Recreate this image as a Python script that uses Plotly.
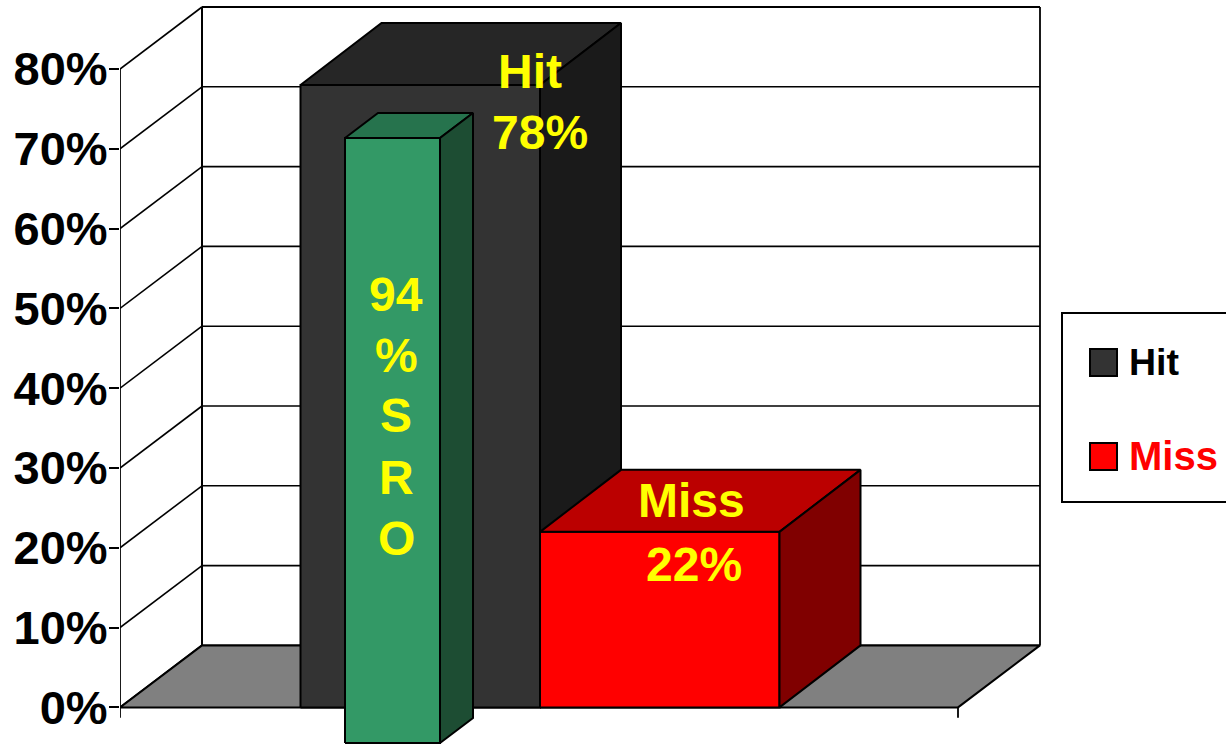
import plotly.graph_objects as go

# Chart values
categories = ["Hit", "Miss"]
values = [78, 22]
sro_label = "SRO"
sro_value = 94
tick_values = [0, 10, 20, 30, 40, 50, 60, 70, 80]
tick_labels = ["0%", "10%", "20%", "30%", "40%", "50%", "60%", "70%", "80%"]

W, H = 1226, 745
LEFT = 120            # pixel column of the front-left corner
ZERO_PX = 707.4       # pixel row of 0%
UNIT_X = 239.5        # pixels per bar width
UNIT_Y = 7.98         # pixels per percentage point
WALL_DX = 82 / UNIT_X
DEPTH_X = 81 / UNIT_X
DEPTH_Y = 62.0 / UNIT_Y
FLOOR_END = 838 / UNIT_X
BAR_START = 180.5 / UNIT_X

# Secondary scale used by the narrow SRO column, which starts lower on the page
SRO_ZERO_PX = 743
SRO_TOP_PX = 138
SRO_UNIT_Y = (SRO_ZERO_PX - SRO_TOP_PX) / sro_value
SRO_X = (345 - LEFT) / UNIT_X
SRO_W = 95 / UNIT_X
SRO_DEPTH_X = 33 / UNIT_X
SRO_DEPTH_Y = 25 / SRO_UNIT_Y

FONT = "Liberation Sans"
fig = go.Figure()


def line(xs, ys, width=1.6, yaxis="y"):
    fig.add_trace(go.Scatter(x=xs, y=ys, mode="lines", yaxis=yaxis, hoverinfo="skip",
                             showlegend=False, cliponaxis=False,
                             line=dict(color="black", width=width)))


def poly(xs, ys, fill, yaxis="y", width=2):
    fig.add_trace(go.Scatter(x=xs + xs[:1], y=ys + ys[:1], mode="lines", fill="toself",
                             fillcolor=fill, yaxis=yaxis, hoverinfo="skip",
                             showlegend=False, cliponaxis=False,
                             line=dict(color="black", width=width)))


def box3d(x0, width, value, dx, dy, front, top, side, yaxis="y"):
    x1 = x0 + width
    poly([x0, x1, x1, x0], [0, 0, value, value], front, yaxis)
    poly([x0, x1, x1 + dx, x0 + dx], [value, value, value + dy, value + dy], top, yaxis)
    poly([x1, x1 + dx, x1 + dx, x1], [0, dy, value + dy, value], side, yaxis)


# Side wall and back wall grid
for t in tick_values:
    line([0, WALL_DX], [t, t + DEPTH_Y], 1.6 if t else 2)
    line([WALL_DX, WALL_DX + FLOOR_END], [t + DEPTH_Y, t + DEPTH_Y], 2 if t == 80 else 1.6)
line([0, 0], [-1.3, 80], 1.8)
line([WALL_DX, WALL_DX], [DEPTH_Y, 80 + DEPTH_Y], 2)
line([WALL_DX + FLOOR_END, WALL_DX + FLOOR_END], [DEPTH_Y, 80 + DEPTH_Y], 1.8)

# Floor
poly([0, FLOOR_END, FLOOR_END + WALL_DX, WALL_DX], [0, 0, DEPTH_Y, DEPTH_Y], "#808080")
line([FLOOR_END, FLOOR_END], [-1.3, 0], 1.8)

# Main bars
palette = [("#333333", "#262626", "#1a1a1a"), ("#ff0000", "#bb0000", "#800000")]
for i, (cat, val) in enumerate(zip(categories, values)):
    box3d(BAR_START + i, 1, val, DEPTH_X, DEPTH_Y, *palette[i])

# Narrow SRO column
box3d(SRO_X, SRO_W, sro_value, SRO_DEPTH_X, SRO_DEPTH_Y,
      "#339966", "#26734d", "#1d4d33", yaxis="y2")


def px(x):
    return (x - LEFT) / (W - LEFT)


def py(y):
    return 1 - y / H


def label(text, x, y, size=48, color="#ffff00", xanchor="center"):
    fig.add_annotation(text=f"<b>{text}</b>", x=px(x), y=py(y), xref="paper", yref="paper",
                       showarrow=False, xanchor=xanchor, yanchor="middle",
                       font=dict(family=FONT, size=size, color=color),
                       borderpad=0, align="center")


label(f"{categories[0]}", 530, 71)
label(f"{values[0]}%", 540, 132)
label(f"{categories[1]}", 691, 500)
label(f"{values[1]}%", 694, 564)
for text, y in zip([str(sro_value), "%", *sro_label], [294, 355, 416, 477, 538]):
    label(text, 396, y)

# Legend panel
shapes = [dict(type="rect", xref="paper", yref="paper", x0=px(1062), x1=px(1232),
               y0=py(502), y1=py(313), line=dict(color="black", width=2), fillcolor="white",
               layer="below")]
for colour, top in zip(["#333333", "#ff0000"], [349, 443]):
    shapes.append(dict(type="rect", xref="paper", yref="paper", x0=px(1090), x1=px(1117),
                       y0=py(top + 27), y1=py(top), line=dict(color="black", width=2),
                       fillcolor=colour))
label(categories[0], 1128, 362, size=37.5, color="black", xanchor="left")
label(categories[1], 1128, 456, size=40, color="#ff0000", xanchor="left")

fig.update_layout(
    width=W, height=H, autosize=False,
    margin=dict(l=LEFT, r=0, t=0, b=0, pad=0),
    paper_bgcolor="white", plot_bgcolor="rgba(0,0,0,0)",
    showlegend=False, shapes=shapes,
    xaxis=dict(range=[0, (W - LEFT) / UNIT_X], visible=False, fixedrange=True),
    yaxis=dict(range=[-(H - ZERO_PX) / UNIT_Y, ZERO_PX / UNIT_Y], tickmode="array",
               tickvals=tick_values, ticktext=tick_labels, showgrid=False, zeroline=False,
               showline=False, ticks="outside", ticklen=10, tickwidth=2, tickcolor="black",
               ticklabelstandoff=-8, fixedrange=True,
               tickfont=dict(family=FONT, size=47, color="black", weight="bold")),
    yaxis2=dict(range=[-(H - SRO_ZERO_PX) / SRO_UNIT_Y, SRO_ZERO_PX / SRO_UNIT_Y],
                overlaying="y", visible=False, fixedrange=True),
)

fig.write_html("out.html", config=dict(displayModeBar=False))
